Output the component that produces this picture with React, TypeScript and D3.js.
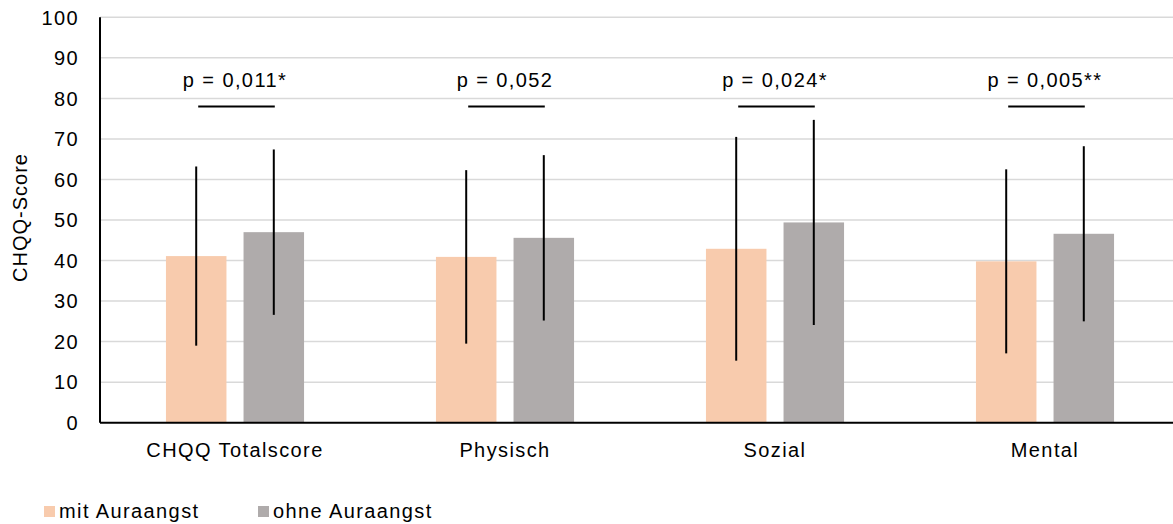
import React from "react";
import * as d3 from "d3";

// CHQQ scores with / without aura anxiety (mean ± SD)
const categories = ["CHQQ Totalscore", "Physisch", "Sozial", "Mental"];
const seriesNames = ["mit Auraangst", "ohne Auraangst"];
const mitMean = [41.1, 40.9, 42.9, 39.8];
const mitSd = [22.1, 21.4, 27.6, 22.7];
const ohneMean = [47.0, 45.6, 49.4, 46.6];
const ohneSd = [20.4, 20.4, 25.3, 21.6];
const pLabels = ["p = 0,011*", "p = 0,052", "p = 0,024*", "p = 0,005**"];
const sigLevel = 78;
const yTicks = [0, 10, 20, 30, 40, 50, 60, 70, 80, 90, 100];

const colors = ["#F8CBAD", "#AFABAB"];
const W = 1173;
const H = 524;
const margin = { top: 17.3, left: 100, bottom: 101.3 };
const font = "'Liberation Sans', Arial, sans-serif";

export default function App() {
  const x = d3.scaleBand<string>().domain(categories).range([margin.left, margin.left + 4 * 270]);
  const xs = d3.scaleBand<string>().domain(seriesNames).range([0, x.bandwidth()]).paddingInner(0.22).paddingOuter(0.85);
  const y = d3.scaleLinear().domain([0, 100]).range([H - margin.bottom, margin.top]);

  const series = [
    { name: seriesNames[0], mean: mitMean, sd: mitSd, color: colors[0] },
    { name: seriesNames[1], mean: ohneMean, sd: ohneSd, color: colors[1] },
  ];

  const bw = xs.bandwidth();
  const textStyle = { fontFamily: font, fontSize: "20px", letterSpacing: "1.4px" };

  return (
    <svg width={W} height={H} style={{ position: "absolute", left: 0, top: 0, display: "block", background: "#fff" }}>
      {/* gridlines */}
      {yTicks.slice(1).map((t) => (
        <line key={t} x1={margin.left} x2={W} y1={y(t)} y2={y(t)} stroke="#D9D9D9" strokeWidth={1.5} />
      ))}
      {/* y tick labels */}
      {yTicks.map((t) => (
        <text key={t} x={79} y={y(t)} dy="0.36em" textAnchor="end" fill="#000" style={textStyle}>
          {t}
        </text>
      ))}
      {/* y axis title */}
      <text
        transform={`translate(27,${(y(0) + y(100)) / 2 - 2.5}) rotate(-90)`}
        textAnchor="middle"
        fill="#000"
        style={{ ...textStyle, letterSpacing: "1px" }}
      >
        CHQQ-Score
      </text>

      {/* bars */}
      {series.map((s) =>
        categories.map((c, i) => (
          <rect
            key={s.name + c}
            x={(x(c) as number) + (xs(s.name) as number)}
            y={y(s.mean[i])}
            width={bw}
            height={y(0) - y(s.mean[i])}
            fill={s.color}
          />
        ))
      )}
      {/* error bars */}
      {series.map((s) =>
        categories.map((c, i) => {
          const cx = (x(c) as number) + (xs(s.name) as number) + bw / 2;
          return (
            <line
              key={"e" + s.name + c}
              x1={cx}
              x2={cx}
              y1={y(s.mean[i] + s.sd[i])}
              y2={y(s.mean[i] - s.sd[i])}
              stroke="#000"
              strokeWidth={2}
            />
          );
        })
      )}

      {/* axes lines */}
      <line x1={margin.left} x2={margin.left} y1={y(100)} y2={y(0)} stroke="#000" strokeWidth={2} />
      <line x1={margin.left} x2={W} y1={y(0)} y2={y(0)} stroke="#000" strokeWidth={2} />

      {/* significance brackets */}
      {categories.map((c, i) => {
        const x1 = (x(c) as number) + (xs(seriesNames[0]) as number) + bw / 2;
        const x2 = (x(c) as number) + (xs(seriesNames[1]) as number) + bw / 2;
        return (
          <g key={"p" + c}>
            <line x1={x1 + 2} x2={x2 + 1} y1={y(sigLevel)} y2={y(sigLevel)} stroke="#000" strokeWidth={2} />
            <text x={(x1 + x2) / 2} y={y(sigLevel) - 19} textAnchor="middle" fill="#000" style={textStyle}>
              {pLabels[i]}
            </text>
          </g>
        );
      })}

      {/* category labels */}
      {categories.map((c) => (
        <text key={"c" + c} x={(x(c) as number) + x.bandwidth() / 2} y={457} textAnchor="middle" fill="#000" style={textStyle}>
          {c}
        </text>
      ))}

      {/* legend */}
      {series.map((s, i) => {
        const lx = [44, 258][i];
        return (
          <g key={"l" + s.name}>
            <rect x={lx} y={506} width={11} height={11} fill={s.color} />
            <text x={lx + 15} y={518} fill="#000" style={textStyle}>
              {s.name}
            </text>
          </g>
        );
      })}
    </svg>
  );
}
